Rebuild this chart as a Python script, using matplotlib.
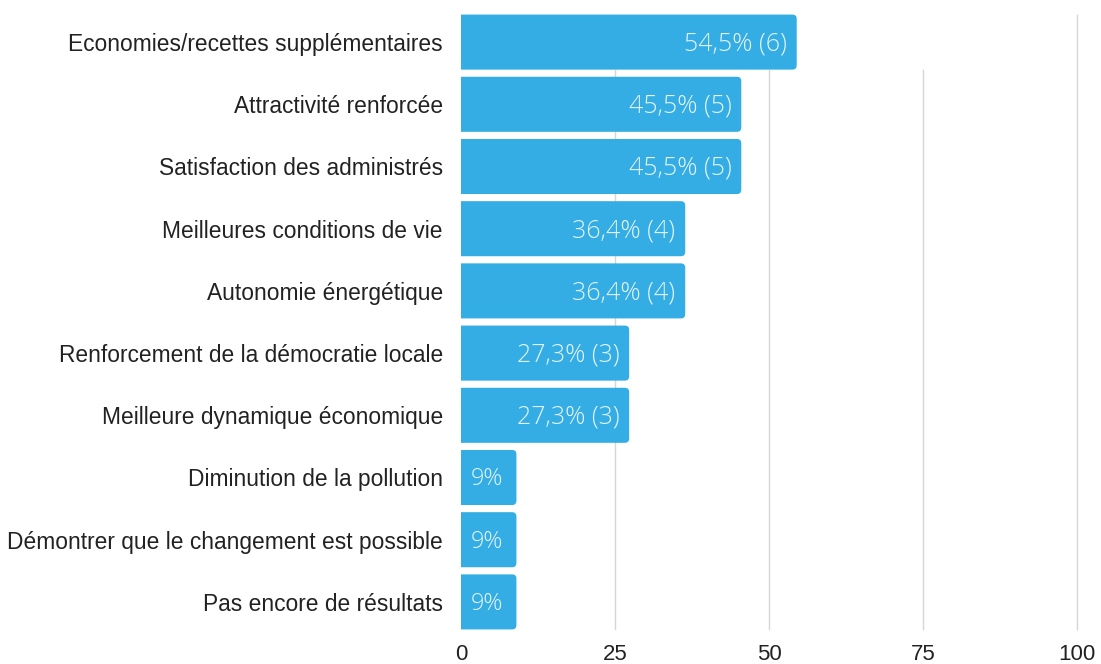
import matplotlib.pyplot as plt
from matplotlib.patches import FancyBboxPatch

# Survey results: share of respondents per observed benefit
categories = [
    "Economies/recettes supplémentaires",
    "Attractivité renforcée",
    "Satisfaction des administrés",
    "Meilleures conditions de vie",
    "Autonomie énergétique",
    "Renforcement de la démocratie locale",
    "Meilleure dynamique économique",
    "Diminution de la pollution",
    "Démontrer que le changement est possible",
    "Pas encore de résultats",
]
percents = [54.5, 45.5, 45.5, 36.4, 36.4, 27.3, 27.3, 9, 9, 9]
counts = [6, 5, 5, 4, 4, 3, 3, 1, 1, 1]
value_labels = ["54,5% (6)", "45,5% (5)", "45,5% (5)", "36,4% (4)", "36,4% (4)",
                "27,3% (3)", "27,3% (3)", "9%", "9%", "9%"]
x_ticks = [0, 25, 50, 75, 100]

bar_color = "#33ade3"
text_color = "#222222"
grid_color = "#d6d6d6"

fig = plt.figure(figsize=(11.01, 6.64), dpi=100)
ax = fig.add_axes([461 / 1101, 1 - 633 / 664, 616 / 1101, 622 / 664])

n = len(categories)
ax.set_xlim(0, 100)
ax.set_ylim(n - 0.5, -0.5)
bar_h = 0.885

# vertical gridlines; the inner ones stop below the first row
for t in x_ticks[1:]:
    top = -0.5 + 0.06 if t == 100 else 0 + bar_h / 2
    ax.plot([t, t], [n - 1 + bar_h / 2, top], color=grid_color, lw=1, zorder=1,
            clip_on=False)

for i, (p, lab) in enumerate(zip(percents, value_labels)):
    patch = FancyBboxPatch((-3, i - bar_h / 2), p + 3, bar_h,
                           boxstyle="round,pad=0,rounding_size=0.7",
                           mutation_aspect=0.1,
                           facecolor=bar_color, edgecolor="none", zorder=2)
    ax.add_patch(patch)
    if p > 15:
        ax.text(p - 1.6, i + 0.03, lab, ha="right", va="center",
                color="#e4f3fc", fontsize=18, family="Open Sans",
                fontweight="light", zorder=3)
    else:
        ax.text(p / 2 - 0.3, i + 0.03, lab, ha="center", va="center",
                color="#e4f3fc", fontsize=17, family="Open Sans",
                fontweight="light", zorder=3)

ax.set_yticks(range(n))
ax.set_yticklabels(categories, family="Liberation Sans", fontsize=16.4,
                   color=text_color)
ax.set_xticks(x_ticks)
ax.set_xticklabels([str(t) for t in x_ticks], family="Liberation Sans",
                   fontsize=16, color=text_color)
ax.tick_params(axis="y", length=0, pad=13)
ax.tick_params(axis="x", length=0, pad=8)

for s in ax.spines.values():
    s.set_visible(False)

fig.savefig("out.png", dpi=100)
